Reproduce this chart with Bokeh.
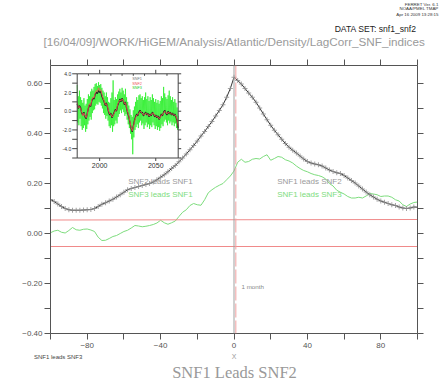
from bokeh.plotting import figure
from bokeh.layouts import column
from bokeh.models import (Range1d, FixedTicker, LinearAxis, Label, Legend,
                          LegendItem, ColumnDataSource, Span)
from bokeh.core.properties import value
from bokeh.embed import file_html
from bokeh.resources import INLINE

# ---------------- data ----------------
lags = list(range(-100, 101, 2))
corr_snf1_snf2 = [
    0.136, 0.128, 0.118, 0.108, 0.100, 0.095, 0.093, 0.093, 0.093, 0.094,
    0.095, 0.096, 0.100, 0.108, 0.117, 0.123, 0.130, 0.137, 0.146, 0.155,
    0.165, 0.175, 0.180, 0.184, 0.188, 0.192, 0.196, 0.200, 0.206, 0.215,
    0.225, 0.235, 0.247, 0.260, 0.272, 0.287, 0.302, 0.318, 0.335, 0.352,
    0.370, 0.390, 0.408, 0.428, 0.448, 0.470, 0.492, 0.515, 0.545, 0.580,
    0.625, 0.612, 0.598, 0.580, 0.562, 0.545, 0.525, 0.502, 0.478, 0.455,
    0.433, 0.413, 0.395, 0.377, 0.360, 0.345, 0.333, 0.322, 0.310, 0.298,
    0.288, 0.282, 0.278, 0.275, 0.270, 0.262, 0.254, 0.248, 0.243, 0.240,
    0.232, 0.222, 0.212, 0.202, 0.190, 0.178, 0.166, 0.155, 0.146, 0.137,
    0.130, 0.125, 0.120, 0.115, 0.112, 0.106, 0.102, 0.100, 0.102, 0.106, 0.105]
corr_snf1_snf3 = [
    0.003, 0.010, 0.013, 0.005, 0.002, 0.012, 0.024, 0.015, 0.013, 0.017,
    0.018, 0.014, 0.008, -0.015, -0.028, -0.027, -0.020, -0.012, -0.008, 0.000,
    0.008, 0.013, 0.022, 0.032, 0.030, 0.027, 0.029, 0.032, 0.036, 0.042,
    0.053, 0.043, 0.037, 0.043, 0.050, 0.068, 0.085, 0.095, 0.112, 0.120,
    0.115, 0.113, 0.135, 0.163, 0.175, 0.185, 0.193, 0.200, 0.215, 0.230,
    0.250, 0.285, 0.297, 0.285, 0.288, 0.297, 0.300, 0.298, 0.308, 0.315,
    0.293, 0.300, 0.308, 0.305, 0.295, 0.290, 0.282, 0.270, 0.260, 0.252,
    0.247, 0.240, 0.235, 0.232, 0.227, 0.218, 0.200, 0.190, 0.173, 0.165,
    0.158, 0.148, 0.142, 0.142, 0.145, 0.142, 0.150, 0.160, 0.158, 0.155,
    0.148, 0.150, 0.150, 0.145, 0.135, 0.130, 0.115, 0.108, 0.118, 0.124, 0.126]
sig_lags = [-100, 100]
sig_upper = [0.054, 0.056]
sig_lower = [-0.052, -0.052]
lag_zero = 0
lag_one_month = 1

x_ticks = [-80, -40, 0, 40, 80]
x_tick_labels = ["\u221280", "\u221240", "0", "40", "80"]
x_minor = [-100, -60, -20, 20, 60, 100]
y_ticks = [-0.4, -0.2, 0.0, 0.2, 0.4, 0.6]
y_tick_labels = ["\u22120.40", "\u22120.20", "0.00", "0.20", "0.40", "0.60"]
y_minor = [-0.3, -0.1, 0.1, 0.3, 0.5]

# inset time series
ts_years = list(range(1980, 2071))
snf1_ts = [0.8, 0.3, 0.6, 0.4, -0.2, -0.4, -0.1, -0.6, -0.8, -0.2,
           0.3, 0.7, 0.5, 1.1, 1.4, 1.3, 1.8, 2.0, 1.9, 2.2,
           2.0, 2.1, 1.6, 1.3, 1.0, 0.6, 0.9, 0.4, -0.1, -0.4,
           -0.2, -0.7, -0.4, -0.1, 0.2, 0.0, 0.6, 0.9, 1.3, 1.0,
           1.4, 1.1, 0.7, 1.0, 0.3, -0.2, -0.6, -1.2, -1.8, -2.2,
           -1.6, -1.0, -0.6, -0.3, -0.5, -0.1, 0.1, -0.2, -0.1, -0.5,
           -0.3, -0.1, -0.4, -0.2, -0.6, -0.3, -0.5, -0.1, -0.3, -0.6,
           -0.4, -0.7, -0.5, -0.9, -0.6, -0.3, -0.5, -0.1, 0.1, -0.2,
           -0.4, 0.0, -0.3, -0.1, -0.4, -0.2, -0.5, -0.3, -0.6, -1.0, -1.8]
snf2_ts = [0.9, 0.4, 0.5, 0.3, -0.1, -0.5, -0.2, -0.5, -0.7, -0.3,
           0.4, 0.8, 0.6, 1.2, 1.5, 1.4, 1.9, 2.2, 2.1, 2.5,
           2.2, 2.3, 1.8, 1.4, 1.1, 0.7, 0.8, 0.5, 0.0, -0.3,
           -0.3, -0.6, -0.5, -0.2, 0.1, 0.1, 0.7, 1.0, 1.2, 1.1,
           1.3, 1.2, 0.8, 0.9, 0.4, -0.1, -0.5, -1.1, -1.7, -2.1,
           -1.7, -1.1, -0.7, -0.4, -0.4, -0.2, 0.0, -0.1, -0.2, -0.4,
           -0.4, -0.2, -0.3, -0.3, -0.5, -0.4, -0.4, -0.2, -0.2, -0.5,
           -0.5, -0.6, -0.6, -0.8, -0.7, -0.4, -0.4, -0.2, 0.0, -0.1,
           -0.3, -0.1, -0.2, -0.2, -0.3, -0.3, -0.4, -0.4, -0.5, -0.9, -1.6]
snf3_years = [1980 + 0.5 * i for i in range(181)]
snf3_ts = [2.8, -1.2, 1.6, -1.5, 2.2, -0.8, 1.5, -1.6, 1.2, -2.0, 0.9, -1.8, 1.4, -1.5, 0.6, -2.2, 0.8, -1.9, 1.3, -1.4,
           1.8, -1.0, 1.6, -0.6, 2.1, -0.9, 2.4, -0.2, 2.2, 0.1, 2.6, 0.2, 2.9, 0.6, 3.0, 0.8, 2.7, 0.7, 3.1, 1.0,
           2.8, 0.9, 2.9, 0.6, 2.5, 0.3, 2.2, -0.2, 2.0, -0.4, 1.6, -0.8, 2.0, -0.5, 1.5, -1.0, 1.0, -1.6, 0.9, -1.8,
           1.4, -1.5, 2.0, -2.2, 3.3, -1.6, 1.2, -1.4, 1.5, -1.0, 1.3, -1.3, 1.8, -0.6, 2.1, -0.3, 2.4, 0.1, 2.0, -0.2,
           2.5, 0.2, 2.2, -0.1, 1.8, -0.5, 2.4, -0.3, 1.5, -0.9, 1.0, -1.4, 0.6, -1.8, 0.2, -2.4, -0.4, -3.0, -0.6, -4.6,
           0.1, -2.8, 0.5, -2.0, 1.0, -1.7, 1.5, -1.4, 1.2, -1.8, 1.7, -1.2, 1.8, -1.0, 1.4, -1.5, 1.6, -1.3, 1.2, -1.9,
           1.5, -1.5, 2.0, -1.2, 1.3, -1.7, 1.6, -1.4, 1.1, -1.9, 1.5, -1.5, 1.2, -1.7, 1.8, -1.2, 1.4, -1.5, 1.0, -1.9,
           1.3, -1.6, 0.9, -2.0, 1.2, -1.7, 0.8, -2.1, 1.1, -1.8, 1.6, -1.4, 1.4, -1.6, 2.6, -1.1, 1.9, -0.9, 1.5, -1.2,
           1.3, -1.5, 1.7, -1.0, 2.2, -1.3, 1.6, -1.1, 1.2, -1.5, 1.5, -1.2, 1.0, -1.6, 1.3, -1.3, 0.9, -1.8, 0.4, -2.0,
           -0.5]
inset_year_min, inset_year_max = 1980, 2070
inset_val_min, inset_val_max = -5.0, 4.0
inset_y_ticks = [-4.0, -2.0, 0.0, 2.0, 4.0]
inset_y_tick_labels = ["-4.0", "-2.0", "0.0", "2.0", "4.0"]
inset_y_minor = [-5.0, -3.0, -1.0, 1.0, 3.0]
inset_x_ticks = [2000, 2050]
inset_x_tick_labels = ["2000", "2050"]
inset_x_minor = [1990, 2010, 2020, 2030, 2040, 2060]

# ---------------- layout (page pixels) ----------------
W, H = 440, 382
TOP_H, BOT_H = 50, 29
FRAME_L, FRAME_R, FRAME_T, FRAME_B = 50, 417, 65, 333
INSET_L, INSET_R, INSET_T, INSET_B = 76.7, 177.7, 73.3, 157.5
Y_MIN, Y_MAX = -0.4, 0.672
FONT = "Liberation Sans"
GREEN = "#7ddc7d"
GRAY_TXT = "#9a9a9a"


def strip(y0, y1):
    f = figure(width=W, height=y1 - y0, x_range=Range1d(0, W), y_range=Range1d(y1, y0),
               output_backend="svg", toolbar_location=None, min_border=0,
               x_axis_location=None, y_axis_location=None, outline_line_color=None,
               frame_align=False)
    f.xgrid.visible = False
    f.ygrid.visible = False
    return f


top = strip(0, TOP_H)
bot = strip(H - BOT_H, H)

p = figure(frame_width=FRAME_R - FRAME_L, frame_height=FRAME_B - FRAME_T,
           x_range=Range1d(-100, 100), y_range=Range1d(Y_MIN, Y_MAX),
           output_backend="svg", toolbar_location=None,
           min_border_left=FRAME_L, min_border_right=W - FRAME_R,
           min_border_top=FRAME_T - TOP_H, min_border_bottom=(H - BOT_H) - FRAME_B,
           outline_line_color=None, background_fill_color="white", frame_align=False)
p.xgrid.visible = False
p.ygrid.visible = False

# pixel ranges for text placement in the main frame
p.extra_x_ranges["px"] = Range1d(FRAME_L, FRAME_R)
p.extra_y_ranges["py"] = Range1d(FRAME_B, FRAME_T)
# inset ranges mapped onto the inset box
ypp = (inset_year_max - inset_year_min) / (INSET_R - INSET_L)
vpp = (inset_val_max - inset_val_min) / (INSET_B - INSET_T)
p.extra_x_ranges["ix"] = Range1d(inset_year_min - (INSET_L - FRAME_L) * ypp,
                                 inset_year_max + (FRAME_R - INSET_R) * ypp)
p.extra_y_ranges["iy"] = Range1d(inset_val_min - (FRAME_B - INSET_B) * vpp,
                                 inset_val_max + (INSET_T - FRAME_T) * vpp)


def style_axis(ax):
    ax.axis_line_color = "#555555"
    ax.major_tick_line_color = "#555555"
    ax.minor_tick_line_color = "#555555"
    ax.major_tick_out = 6
    ax.major_tick_in = 0
    ax.minor_tick_out = 6
    ax.minor_tick_in = 0
    ax.major_label_text_font = FONT
    ax.major_label_text_font_size = "8px"
    ax.major_label_text_color = "#555555"


xb = p.xaxis[0]
xb.ticker = FixedTicker(ticks=x_ticks, minor_ticks=x_minor)
xb.major_label_overrides = dict(zip(x_ticks, x_tick_labels))
style_axis(xb)
xb.major_label_standoff = 3
yl = p.yaxis[0]
yl.ticker = FixedTicker(ticks=y_ticks, minor_ticks=y_minor)
yl.major_label_overrides = dict(zip(y_ticks, y_tick_labels))
style_axis(yl)
yl.major_label_standoff = 2

xt = LinearAxis(ticker=FixedTicker(ticks=x_ticks, minor_ticks=x_minor))
style_axis(xt)
xt.major_label_overrides = {t: "" for t in x_ticks}
xt.major_label_standoff = 0
p.add_layout(xt, "above")
yr = LinearAxis(ticker=FixedTicker(ticks=y_ticks, minor_ticks=y_minor))
style_axis(yr)
yr.major_label_overrides = {t: "" for t in y_ticks}
yr.major_label_standoff = 0
p.add_layout(yr, "right")

# ---------------- main curves ----------------
src = ColumnDataSource(dict(lag=lags, c12=corr_snf1_snf2, c13=corr_snf1_snf3))
p.line("lag", "c13", source=src, line_color=GREEN, line_width=1)
p.line(sig_lags, sig_upper, line_color="#f08a8a", line_width=1)
p.line(sig_lags, sig_lower, line_color="#f08a8a", line_width=1)
p.line("lag", "c12", source=src, line_color="#333333", line_width=1)
p.scatter("lag", "c12", source=src, marker="cross", size=5,
          line_color="#8a8a8a", line_width=0.8)

p.add_layout(Span(location=lag_zero, dimension="height", line_color="#a0a0a0", line_width=1))
p.add_layout(Span(location=lag_one_month, dimension="height", line_color="#f0a0a0",
                  line_width=1, line_dash="14 3"))

# ---------------- inset ----------------
IX = dict(x_range_name="ix", y_range_name="iy")
p.quad(left=[inset_year_min], right=[inset_year_max], bottom=[inset_val_min],
       top=[inset_val_max], fill_color="white", line_color=None, **IX)
p.line(snf3_years, snf3_ts, line_color="#22ee22", line_width=0.7, **IX)
p.line(ts_years, snf1_ts, line_color="#222222", line_width=1.2, **IX)
p.line(ts_years, snf2_ts, line_color="#ee5555", line_width=1, line_alpha=0.85, **IX)
p.quad(left=[inset_year_min], right=[inset_year_max], bottom=[inset_val_min],
       top=[inset_val_max], fill_color=None, line_color="#444444", line_width=1, **IX)

yt_all = sorted(inset_y_ticks + inset_y_minor)
p.segment(x0=[inset_year_min] * len(yt_all), x1=[inset_year_min - 5 * ypp] * len(yt_all),
          y0=yt_all, y1=yt_all, line_color="#444444", line_width=1, **IX)
p.segment(x0=[inset_year_max] * len(yt_all), x1=[inset_year_max + 3 * ypp] * len(yt_all),
          y0=yt_all, y1=yt_all, line_color="#444444", line_width=1, **IX)
p.segment(x0=inset_x_ticks, x1=inset_x_ticks, y0=[inset_val_max] * 2,
          y1=[inset_val_max + 4 * vpp] * 2, line_color="#444444", line_width=1, **IX)
p.segment(x0=inset_x_ticks, x1=inset_x_ticks, y0=[inset_val_min] * 2,
          y1=[inset_val_min - 3 * vpp] * 2, line_color="#444444", line_width=1, **IX)
p.segment(x0=inset_x_minor, x1=inset_x_minor, y0=[inset_val_max] * len(inset_x_minor),
          y1=[inset_val_max - 2 * vpp] * len(inset_x_minor), line_color="#444444", line_width=1, **IX)
p.text(x=[inset_year_min - 6 * ypp] * len(inset_y_ticks), y=inset_y_ticks, text=inset_y_tick_labels,
       text_font=value(FONT), text_font_size="5px", text_color="#333333",
       text_align="right", text_baseline="middle", **IX)
p.text(x=inset_x_ticks, y=[inset_val_min - 5 * vpp] * 2, text=inset_x_tick_labels,
       text_font=value(FONT), text_font_size="7px", text_color="#333333",
       text_align="center", text_baseline="top", **IX)


# ---------------- texts (y = visual centre, page pixels) ----------------
def lab(fig, x, y, text, size, color, align="left", font=FONT, xr="default", yr_="default"):
    fig.add_layout(Label(x=x, y=y, x_range_name=xr, y_range_name=yr_, text=text,
                         text_font=font, text_font_size=size, text_color=color,
                         text_align=align, text_baseline="middle"))


def mlab(*a, **k):
    lab(p, *a, xr="px", yr_="py", **k)


mlab(131.7, 78.6, "SNF1", "3.8px", "#777777")
mlab(131.7, 83.3, "SNF2", "3.8px", "#ee5555")
mlab(131.7, 87.4, "SNF3", "3.8px", "#22cc22")

mlab(127.7, 181, "SNF2 leads SNF1", "8px", GRAY_TXT)
mlab(127.7, 193.7, "SNF3 leads SNF1", "8px", GREEN)
mlab(276.7, 181, "SNF1 leads SNF2", "8px", GRAY_TXT)
mlab(276.7, 193.7, "SNF1 leads SNF3", "8px", GREEN)
mlab(241, 285.7, "1 month", "6.2px", "#888888")

# top strip
lab(top, 438, 3.6, "FERRET Ver. 6.1", "4.4px", "#333333", "right")
lab(top, 438, 8.4, "NOAA/PMEL TMAP", "4.4px", "#333333", "right")
lab(top, 438, 13.6, "Apr 16 2009 13:28:15", "4.4px", "#333333", "right")
lab(top, 416, 28.2, "DATA SET: snf1_snf2", "8.6px", "#222222", "right")
lab(top, 43, 41.3, "[16/04/09]/WORK/HiGEM/Analysis/Atlantic/Density/LagCorr_SNF_indices",
    "11.7px", GRAY_TXT)

# bottom strip
lab(bot, 233.7, 355.6, "X", "7px", GRAY_TXT, "center")
lab(bot, 234, 372.4, "SNF1 Leads SNF2", "16.5px", "#999999", "center", "Liberation Serif")
key = bot.line([], [], line_color=GREEN, line_width=1)
legend = Legend(items=[LegendItem(label="SNF1 leads SNF3", renderers=[key])],
                location=(0, (H - 357) - 4),
                glyph_width=29, glyph_height=8, label_height=8, label_standoff=5,
                padding=0, margin=0, spacing=0, border_line_color=None,
                background_fill_alpha=0, label_text_font=FONT,
                label_text_font_size="6px", label_text_color="#444444")
bot.add_layout(legend, "center")

page = column(top, p, bot, spacing=0)
open("out.html", "w").write(file_html(page, INLINE))
